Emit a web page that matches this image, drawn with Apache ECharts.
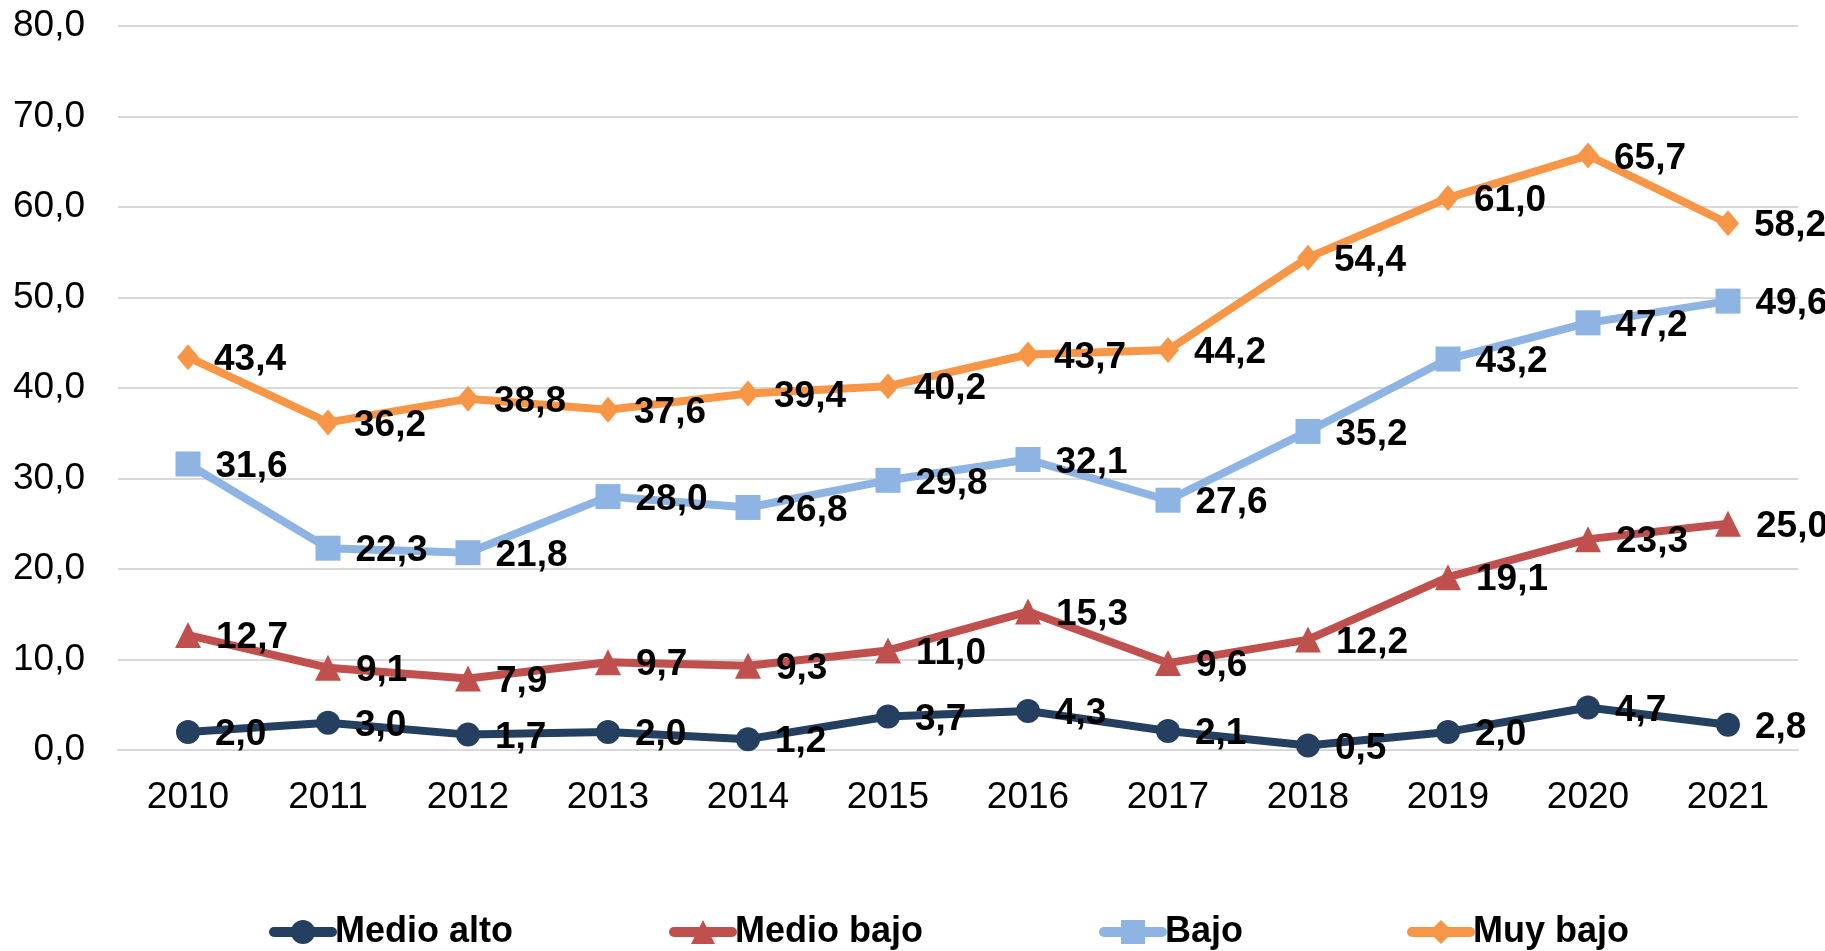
<!DOCTYPE html>
<html>
<head>
<meta charset="utf-8">
<script src="https://cdn.jsdelivr.net/npm/echarts@6/dist/echarts.min.js"></script>
<style>
  html, body { margin: 0; padding: 0; background: #fff; }
  #chart { width: 1825px; height: 951px; }
</style>
</head>
<body>
<div id="chart"></div>
<script>
// datos
var years = ['2010', '2011', '2012', '2013', '2014', '2015', '2016', '2017', '2018', '2019', '2020', '2021'];
var medioAlto = [2.0, 3.0, 1.7, 2.0, 1.2, 3.7, 4.3, 2.1, 0.5, 2.0, 4.7, 2.8];
var medioBajo = [12.7, 9.1, 7.9, 9.7, 9.3, 11.0, 15.3, 9.6, 12.2, 19.1, 23.3, 25.0];
var bajo = [31.6, 22.3, 21.8, 28.0, 26.8, 29.8, 32.1, 27.6, 35.2, 43.2, 47.2, 49.6];
var muyBajo = [43.4, 36.2, 38.8, 37.6, 39.4, 40.2, 43.7, 44.2, 54.4, 61.0, 65.7, 58.2];

var fmt = function (v) { return v.toFixed(1).replace('.', ','); };

var font = '"Liberation Sans", Arial, sans-serif';

function serie(name, data, color, symbol, size) {
  return {
    name: name,
    type: 'line',
    data: data,
    symbol: symbol,
    symbolSize: size,
    lineStyle: { color: color, width: 8 },
    itemStyle: { color: color },
    label: {
      show: true,
      position: 'right',
      distance: 15,
      offset: [0, 3],
      color: '#000',
      fontFamily: font,
      fontWeight: 'bold',
      fontSize: 37,
      formatter: function (p) { return fmt(p.value); }
    }
  };
}

function leyenda(name, left) {
  return {
    data: [name],
    left: left,
    top: 909,
    itemWidth: 58,
    itemHeight: 30,
    itemGap: 0,
    lineStyle: { width: 10, cap: 'round' },
    textStyle: {
      fontFamily: font,
      fontWeight: 'bold',
      fontSize: 36,
      color: '#000',
      padding: [0, 0, 0, -2]
    }
  };
}

var chart = echarts.init(document.getElementById('chart'));
var option = {
  animation: false,
  backgroundColor: '#fff',
  grid: { left: 118, right: 27, top: 26, bottom: 201, containLabel: false },
  legend: [
    leyenda('Medio alto', 264),
    leyenda('Medio bajo', 664),
    leyenda('Bajo', 1094),
    leyenda('Muy bajo', 1402)
  ],
  xAxis: {
    type: 'category',
    data: years,
    boundaryGap: true,
    axisLine: { show: true, lineStyle: { color: '#D9D9D9', width: 2 } },
    axisTick: { show: false },
    axisLabel: { color: '#000', fontFamily: font, fontSize: 37, margin: 29 }
  },
  yAxis: {
    type: 'value',
    min: 0,
    max: 80,
    interval: 10,
    axisLine: { show: false },
    axisTick: { show: false },
    splitLine: { lineStyle: { color: '#D9D9D9', width: 2 } },
    axisLabel: { color: '#000', fontFamily: font, fontSize: 37, margin: 33, formatter: fmt }
  },
  series: [
    serie('Medio alto', medioAlto, '#243F60', 'circle', 24),
    serie('Medio bajo', medioBajo, '#C0504D', 'triangle', 26),
    serie('Bajo', bajo, '#8DB4E2', 'rect', 25),
    serie('Muy bajo', muyBajo, '#F79646', 'diamond', [22, 26])
  ]
};
chart.setOption(option);
</script>
</body>
</html>
